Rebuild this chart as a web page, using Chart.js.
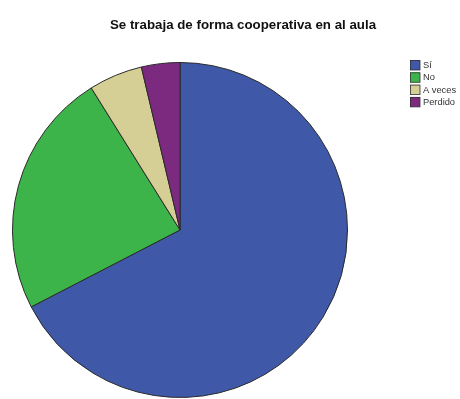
<!DOCTYPE html>
<html>
<head>
<meta charset="utf-8">
<script src="https://cdn.jsdelivr.net/npm/chart.js@4/dist/chart.umd.min.js"></script>
<style>
html,body{margin:0;padding:0;background:#fff;}
#wrap{position:relative;width:460px;height:399px;}
</style>
</head>
<body>
<div id="wrap"><canvas id="c" width="460" height="399"></canvas></div>
<script>
const titleText = "Se trabaja de forma cooperativa en al aula";
const categories = ["Sí", "No", "A veces", "Perdido"];
const counts = [91, 32, 7, 5];
const colors = ["#3f58a8", "#3cb44a", "#d5cf96", "#7c2a80"];

const overlay = {
  id: "overlay",
  afterDraw(chart) {
    const ctx = chart.ctx;
    ctx.save();
    ctx.fillStyle = "#111";
    ctx.font = "bold 13.3px 'Liberation Sans', Arial, sans-serif";
    ctx.textAlign = "center";
    ctx.textBaseline = "middle";
    ctx.fillText(titleText, 243, 25);
    ctx.font = "9.3px 'Liberation Sans', Arial, sans-serif";
    ctx.textAlign = "left";
    categories.forEach((lab, i) => {
      const y = 65 + i * 12.3;
      ctx.fillStyle = colors[i];
      ctx.fillRect(410, y - 5, 10, 10);
      ctx.strokeStyle = "#333";
      ctx.lineWidth = 0.8;
      ctx.strokeRect(410.5, y - 4.5, 9.5, 9.5);
      ctx.fillStyle = "#333";
      ctx.fillText(lab, 423, y + 0.5);
    });
    ctx.restore();
  }
};

new Chart(document.getElementById("c"), {
  type: "pie",
  data: {
    labels: categories,
    datasets: [{
      data: counts,
      backgroundColor: colors,
      borderColor: "#2a2a2a",
      borderWidth: 1
    }]
  },
  options: {
    responsive: false,
    animation: false,
    layout: { padding: { left: 12, right: 112, top: 62, bottom: 1 } },
    plugins: {
      legend: { display: false },
      title: { display: false },
      tooltip: { enabled: false }
    }
  },
  plugins: [overlay]
});
</script>
</body>
</html>
